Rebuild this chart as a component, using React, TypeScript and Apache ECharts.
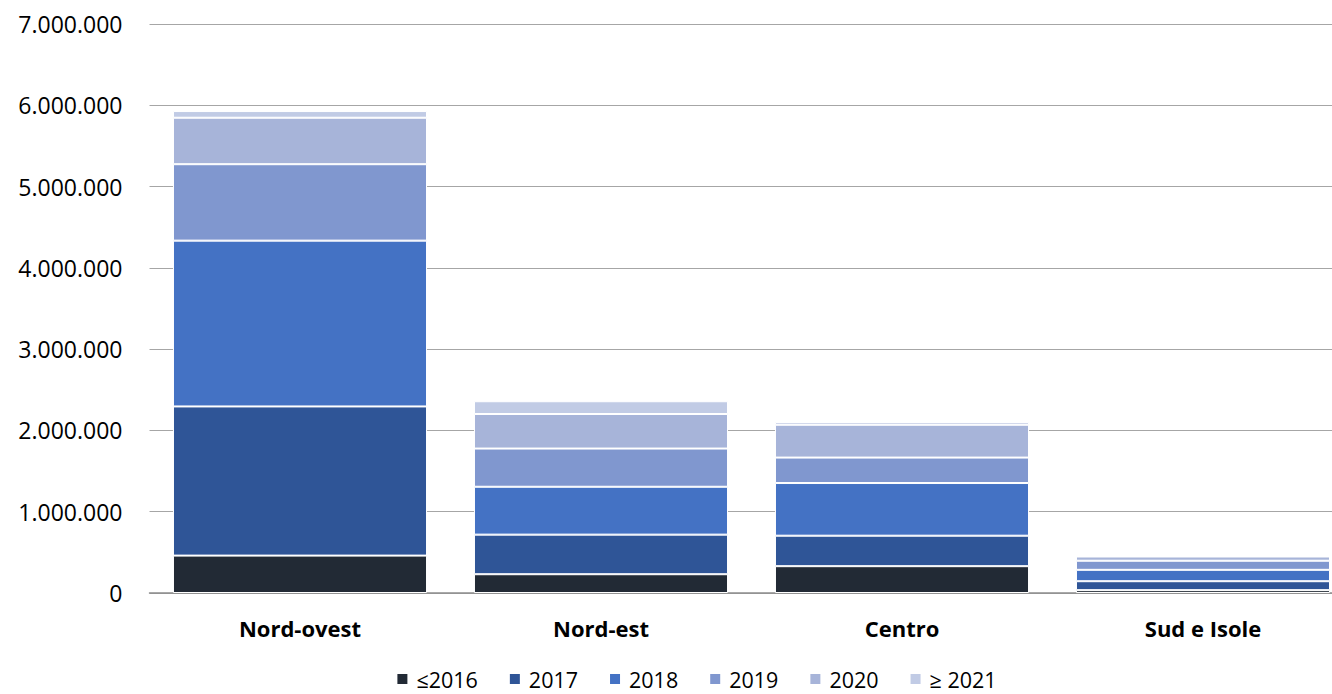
import React, { useEffect, useRef } from "react";
import * as echarts from "echarts";

const categories = ["Nord-ovest", "Nord-est", "Centro", "Sud e Isole"];
const seriesNames = ["≤2016", "2017", "2018", "2019", "2020", "≥ 2021"];
const colors = ["#222A35", "#2F5597", "#4472C4", "#8097CF", "#A7B4D9", "#C1CBE5"];

const v2016 = [460000, 231000, 330000, 35000];
const v2017 = [1835000, 487000, 375000, 110000];
const v2018 = [2040000, 589000, 648000, 140000];
const v2019 = [940000, 470000, 313000, 112000];
const v2020 = [572000, 425000, 404000, 52000];
const v2021 = [82000, 157000, 33000, 6000];

const seriesValues = [v2016, v2017, v2018, v2019, v2020, v2021];

const yMin = 0;
const yMax = 7000000;
const yInterval = 1000000;

const fmt = (v: number) => {
  const s = Math.round(v).toString();
  return s.replace(/\B(?=(\d{3})+(?!\d))/g, ".");
};

export default function App() {
  const ref = useRef<HTMLDivElement>(null);
  useEffect(() => {
    if (!ref.current) return;
    const chart = echarts.init(ref.current, undefined, { renderer: "svg" });
    const font = "'Open Sans', sans-serif";
    chart.setOption({
      animation: false,
      textStyle: { fontFamily: font },
      grid: { left: 149.5, right: 38.5, top: 24, bottom: 101, containLabel: false },
      legend: {
        data: seriesNames,
        left: "center",
        top: 668,
        padding: 0,
        icon: "rect",
        itemWidth: 12,
        itemHeight: 12,
        itemGap: 30,
        textStyle: { fontSize: 21.5, lineHeight: 22, color: "#000", fontFamily: font, padding: [0, 0, 0, 3] },
      },
      xAxis: {
        type: "category",
        data: categories,
        axisLine: { show: true, lineStyle: { color: "#8C8C8C", width: 1.5 } },
        axisTick: { show: false },
        axisLabel: { fontSize: 22, fontWeight: "bold", color: "#000", margin: 24, fontFamily: font },
      },
      yAxis: {
        type: "value",
        min: yMin,
        max: yMax,
        interval: yInterval,
        axisLine: { show: false },
        axisTick: { show: false },
        axisLabel: { fontSize: 23, color: "#000", margin: 27, formatter: fmt, fontFamily: font },
        splitLine: { lineStyle: { color: "#A6A6A6", width: 1 } },
      },
      series: seriesNames.map((name, i) => ({
        name,
        type: "bar",
        stack: "total",
        data: seriesValues[i],
        barCategoryGap: "15.6%",
        itemStyle: { color: colors[i], borderColor: "#FFFFFF", borderWidth: 1 },
      })),
    });
    return () => chart.dispose();
  }, []);
  return (
    <div style={{ position: "absolute", left: 0, top: 0, width: 1332, height: 694, overflow: "hidden", background: "#fff" }}>
      <div ref={ref} style={{ width: 1392, height: 694 }} />
    </div>
  );
}
